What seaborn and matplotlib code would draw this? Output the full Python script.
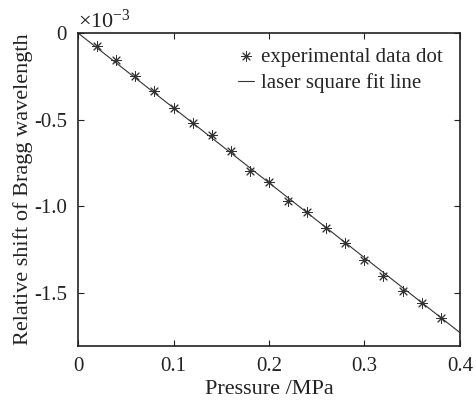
import numpy as np
import pandas as pd
import seaborn as sns
import matplotlib.pyplot as plt

# pressure (MPa) and relative shift (x1e-3)
PRESSURE = [0.02, 0.04, 0.06, 0.08, 0.10, 0.12, 0.14, 0.16, 0.18, 0.20,
            0.22, 0.24, 0.26, 0.28, 0.30, 0.32, 0.34, 0.36, 0.38]
SHIFT = [-0.073, -0.156, -0.246, -0.333, -0.434, -0.518, -0.589, -0.679,
         -0.796, -0.860, -0.968, -1.031, -1.127, -1.209, -1.311, -1.400,
         -1.489, -1.556, -1.646]
FIT_PRESSURE = [0.0, 0.4]
FIT_SHIFT = [0.0, -1.727]

X_TICKS = [0, 0.1, 0.2, 0.3, 0.4]
X_TICK_LABELS = ['0', '0.1', '0.2', '0.3', '0.4']
Y_TICKS = [0, -0.5, -1.0, -1.5]
Y_TICK_LABELS = ['0', '-0.5', '-1.0', '-1.5']

sns.set_style('ticks')
plt.rcParams['font.family'] = ['Liberation Serif', 'DejaVu Serif']
plt.rcParams['mathtext.fontset'] = 'custom'
plt.rcParams['mathtext.rm'] = 'Liberation Serif'
plt.rcParams['mathtext.it'] = 'Liberation Serif:italic'

dots = pd.DataFrame({'p': PRESSURE, 's': SHIFT})
fit = pd.DataFrame({'p': FIT_PRESSURE, 's': FIT_SHIFT})

fig = plt.figure(figsize=(4.76, 4.03), dpi=100)
ax = fig.add_axes([0.164, 0.141, 0.802, 0.777])

sns.lineplot(data=fit, x='p', y='s', ax=ax, color='#333333', linewidth=0.8,
             label='laser square fit line', zorder=2)
sns.scatterplot(data=dots, x='p', y='s', ax=ax, marker=(8, 2, 0), s=50,
                color='#333333', linewidth=0.7, label='experimental data dot',
                zorder=3)

ax.set_xlim(0, 0.4)
ax.set_ylim(-1.806, 0)
ax.set_xticks(X_TICKS)
ax.set_xticklabels(X_TICK_LABELS)
ax.set_yticks(Y_TICKS)
ax.set_yticklabels(Y_TICK_LABELS)
ax.tick_params(direction='in', top=True, right=True, labelsize=15,
               length=4, width=0.8, colors='#222222', pad=8)
for sp in ax.spines.values():
    sp.set_linewidth(1.2)
    sp.set_color('#222222')

ax.set_xlabel('Pressure /MPa', fontsize=16, color='#222222', labelpad=3)
ax.set_ylabel('Relative shift of Bragg wavelength', fontsize=16,
              color='#222222', labelpad=1)
ax.text(0.0, 1.0, r'$\times10^{-3}$', transform=ax.transAxes,
        fontsize=16, color='#222222', ha='left', va='bottom')

handles, labels = ax.get_legend_handles_labels()
order = [1, 0]
ax.legend([handles[i] for i in order], [labels[i] for i in order],
          loc='upper right', bbox_to_anchor=(0.955, 0.955), frameon=False,
          fontsize=15, handlelength=0.75, handletextpad=0.35,
          labelspacing=0.3, borderpad=0, borderaxespad=0)

fig.savefig('out.png', dpi=100)
